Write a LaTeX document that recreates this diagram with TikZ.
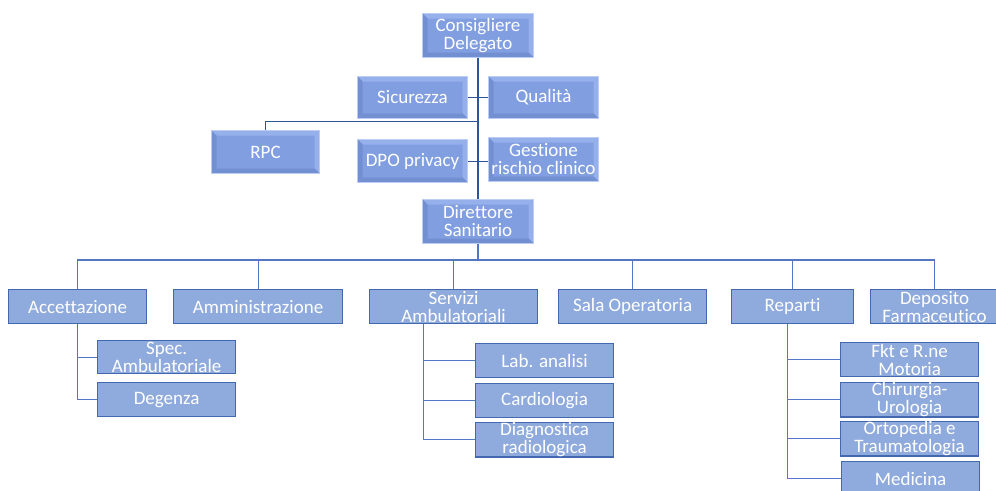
\documentclass[tikz,border=0pt]{standalone}
\usepackage{fontspec}
\setmainfont{Carlito}[Ligatures=NoCommon]
\usetikzlibrary{calc}

\definecolor{boxfill}{RGB}{143,170,220}
\definecolor{boxline}{RGB}{68,104,176}
\definecolor{linkblue}{RGB}{84,118,196}
\definecolor{trunkblue}{RGB}{47,85,151}
\definecolor{bevface}{RGB}{128,158,224}
\definecolor{bevlight}{RGB}{150,176,236}
\definecolor{bevdark}{RGB}{114,143,210}
\definecolor{bevedge}{RGB}{188,204,242}

\tikzset{
  unit/.style={draw=boxline, line width=1.2pt, fill=boxfill, text=white,
    anchor=north west, inner sep=0pt, align=center,
    font=\fontsize{19}{18}\selectfont},
  bevel/.style={unit, draw=bevedge, line width=1pt, fill=bevface,
    path picture={
      \coordinate (bNW) at (path picture bounding box.north west);
      \coordinate (bSE) at (path picture bounding box.south east);
      \coordinate (bNE) at (bSE |- bNW);
      \coordinate (bSW) at (bNW |- bSE);
      \fill[bevlight] (bNW) -- (bNE) -- ($(bNE)+(-5pt,-5pt)$) -- ($(bNW)+(5pt,-5pt)$) -- cycle;
      \fill[bevlight] (bNE) -- (bSE) -- ($(bSE)+(-5pt,5pt)$) -- ($(bNE)+(-5pt,-5pt)$) -- cycle;
      \fill[bevdark] (bSE) -- (bSW) -- ($(bSW)+(5pt,5pt)$) -- ($(bSE)+(-5pt,5pt)$) -- cycle;
      \fill[bevdark] (bSW) -- (bNW) -- ($(bNW)+(5pt,-5pt)$) -- ($(bSW)+(5pt,5pt)$) -- cycle;
    }},
  link/.style={linkblue, line width=1.2pt},
}

\begin{document}
\begin{tikzpicture}[x=1pt, y=-1pt]
  \useasboundingbox (0,0) rectangle (996,490);
  % vertice
  \node[bevel, minimum width=111pt, minimum height=44pt] (cd) at (422,13) {Consigliere\\Delegato};
  \node[bevel, minimum width=110pt, minimum height=42pt] (sic) at (357,76) {Sicurezza};
  \node[bevel, minimum width=110pt, minimum height=42pt] (qual) at (488,76) {Qualità};
  \node[bevel, minimum width=108pt, minimum height=43pt] (rpc) at (211,130) {RPC};
  \node[bevel, minimum width=110pt, minimum height=43pt] (dpo) at (357,139) {DPO privacy};
  \node[bevel, minimum width=110pt, minimum height=44pt] (gest) at (488,137) {Gestione\\rischio clinico};
  \node[bevel, minimum width=111pt, minimum height=44pt] (ds) at (422,199) {Direttore\\Sanitario};
  % staff
  \draw[trunkblue, line width=2pt] (cd.south) -- (ds.north);
  \draw[trunkblue, line width=1pt] (sic.east) -- (qual.west);
  \draw[trunkblue, line width=1pt] (dpo.east) -- (dpo.east -| gest.west);
  \coordinate (rpcj) at ($(cd.south)+(0,63)$);
  \draw[trunkblue, line width=1pt] (rpcj) -| (rpc.north);
  % primo livello
  \node[unit, minimum width=138pt, minimum height=34pt] (acc) at (8,289) {Accettazione};
  \node[unit, minimum width=169pt, minimum height=34pt] (amm) at (173,289) {Amministrazione};
  \node[unit, minimum width=168pt, minimum height=34pt] (srv) at (369,289) {Servizi\\Ambulatoriali};
  \node[unit, minimum width=148pt, minimum height=34pt] (sala) at (558,289) {Sala Operatoria};
  \node[unit, minimum width=122pt, minimum height=34pt] (rep) at (731,289) {Reparti};
  \node[unit, minimum width=128pt, minimum height=34pt] (dep) at (870,289) {Deposito\\Farmaceutico};
  \foreach \n in {acc,amm,srv,sala,rep,dep}
  {
  \draw[link] (ds.south) -- ++(0,16) -| (\n.north);
  }
  % Accettazione
  \node[unit, minimum width=138pt, minimum height=33pt] (spec) at (97,340) {Spec.\\Ambulatoriale};
  \node[unit, minimum width=138pt, minimum height=34pt] (deg) at (97,382) {Degenza};
  \foreach \n in {spec,deg}
  {
  \draw[link] (acc.south) |- (\n.west);
  }
  % Servizi Ambulatoriali
  \node[unit, minimum width=138pt, minimum height=34pt] (lab) at (475,343) {Lab. analisi};
  \node[unit, minimum width=138pt, minimum height=34pt] (card) at (475,383) {Cardiologia};
  \node[unit, minimum width=138pt, minimum height=33pt] (diag) at (475,422) {Diagnostica\\radiologica};
  \foreach \n in {lab,card,diag}
  {
  \draw[link] ([xshift=-30pt]srv.south) |- (\n.west);
  }
  % Reparti
  \node[unit, minimum width=138pt, minimum height=34pt] (fkt) at (840,342) {Fkt e R.ne\\Motoria};
  \node[unit, minimum width=138pt, minimum height=34pt] (chir) at (840,382) {Chirurgia-\\Urologia};
  \node[unit, minimum width=138pt, minimum height=33pt] (orto) at (840,421) {Ortopedia e\\Traumatologia};
  \node[unit, minimum width=138pt, minimum height=34pt] (med) at (841,461) {Medicina};
  \foreach \n in {fkt,chir,orto,med}
  {
  \draw[link] ([xshift=-5pt]rep.south) |- (\n.west);
  }
\end{tikzpicture}
\end{document}
